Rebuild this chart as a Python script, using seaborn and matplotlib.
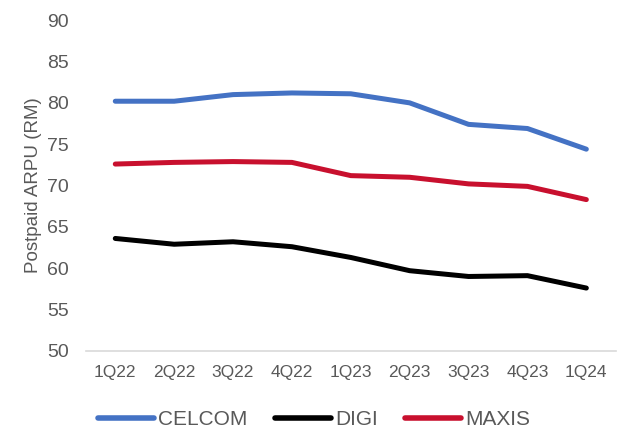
import matplotlib
matplotlib.use("Agg")
import matplotlib.pyplot as plt
import seaborn as sns
import pandas as pd

quarters = ["1Q22", "2Q22", "3Q22", "4Q22", "1Q23", "2Q23", "3Q23", "4Q23", "1Q24"]
celcom = [80.2, 80.2, 81.0, 81.2, 81.1, 80.0, 77.4, 76.9, 74.4]
digi = [63.6, 62.9, 63.2, 62.6, 61.3, 59.7, 59.0, 59.1, 57.6]
maxis = [72.6, 72.8, 72.9, 72.8, 71.2, 71.0, 70.2, 69.9, 68.3]
series_names = ["CELCOM", "DIGI", "MAXIS"]
colors = ["#4472C4", "#000000", "#C8102E"]

rows = []
for name, vals in zip(series_names, [celcom, digi, maxis]):
    for q, v in zip(quarters, vals):
        rows.append({"Quarter": q, "Value": v, "Series": name})
df = pd.DataFrame(rows)

sns.set_theme(style="white")
plt.rcParams["font.family"] = ["Liberation Sans", "DejaVu Sans"]

fig = plt.figure(figsize=(6.22, 4.30), dpi=100)
ax = fig.add_axes([0.138, 0.184, 0.852, 0.769])

sns.lineplot(data=df, x="Quarter", y="Value", hue="Series", hue_order=series_names,
             palette=colors, linewidth=3.6, sort=False, ax=ax, legend=True)

for line in ax.get_lines():
    line.set_solid_capstyle("round")
    line.set_solid_joinstyle("round")

ax.set_ylim(50, 90)
ax.set_yticks(range(50, 91, 5))
ax.set_xlim(-0.5, len(quarters) - 0.5)
ax.set_xlabel("")
ax.set_ylabel("Postpaid ARPU (RM)", fontsize=13.5, color="#595959", labelpad=4)
ax.tick_params(axis="y", labelsize=14, colors="#595959", length=0, pad=12)
ax.tick_params(axis="x", labelsize=12.5, colors="#595959", length=0, pad=10)

for s in ["left", "right", "top"]:
    ax.spines[s].set_visible(False)
ax.spines["bottom"].set_color("#D9D9D9")
ax.spines["bottom"].set_linewidth(1.2)

handles, labels = ax.get_legend_handles_labels()
ax.get_legend().remove()
leg = fig.legend(handles, labels, loc="center", bbox_to_anchor=(0.505, 0.024),
                 ncol=3, frameon=False, fontsize=15, handlelength=2.7,
                 handletextpad=0.2, columnspacing=1.3)
for t in leg.get_texts():
    t.set_color("#595959")
for h in leg.get_lines():
    h.set_linewidth(4)
    h.set_solid_capstyle("round")

fig.savefig("out.png", dpi=100)
